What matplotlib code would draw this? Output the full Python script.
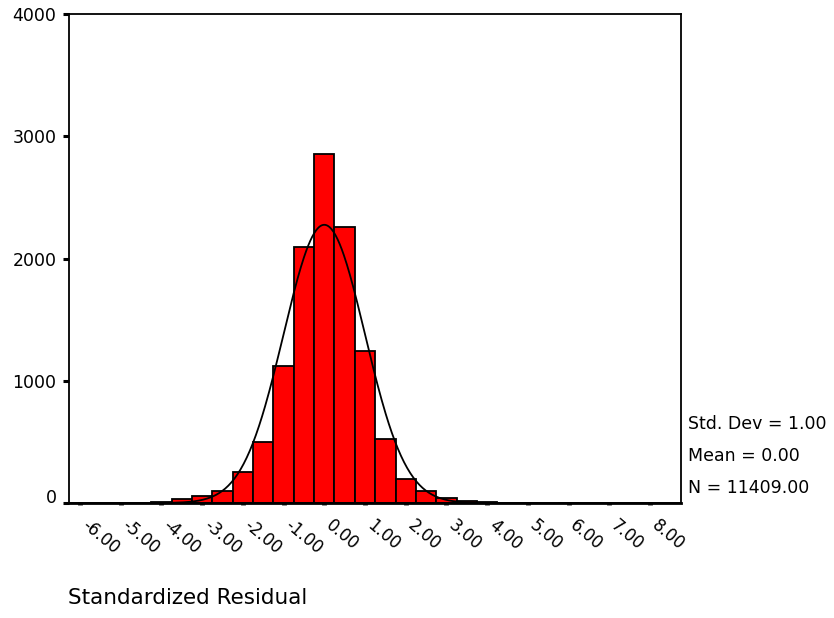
import matplotlib
matplotlib.use("Agg")
import matplotlib.pyplot as plt
import matplotlib.transforms as mtransforms
import numpy as np

# histogram of standardized residuals (bin width 0.5)
bin_centers = [-5.0, -4.5, -4.0, -3.5, -3.0, -2.5, -2.0, -1.5, -1.0, -0.5, 0.0,
               0.5, 1.0, 1.5, 2.0, 2.5, 3.0, 3.5, 4.0, 4.5, 5.0, 6.0, 8.0]
counts = [2, 4, 12, 30, 57, 101, 251, 496, 1121, 2092, 2852,
          2255, 1246, 526, 196, 95, 40, 15, 6, 3, 2, 1, 1]
bin_width = 0.5

std_dev = 1.00
mean = 0.00
n_obs = 11409.00

x_ticks = [-6, -5, -4, -3, -2, -1, 0, 1, 2, 3, 4, 5, 6, 7, 8]
x_tick_labels = ["-6.00", "-5.00", "-4.00", "-3.00", "-2.00", "-1.00", "0.00",
                 "1.00", "2.00", "3.00", "4.00", "5.00", "6.00", "7.00", "8.00"]
y_ticks = [0, 1000, 2000, 3000, 4000]

fig = plt.figure(figsize=(8.34, 6.18), dpi=100)
ax = fig.add_axes([0.0827, 0.1861, 0.7338, 0.7912])

ax.bar(bin_centers, counts, width=bin_width, color="#ff0000",
       edgecolor="black", linewidth=1.3, zorder=2)

xlim = (-6.27, 8.76)
xs = np.linspace(xlim[0], xlim[1], 600)
curve = n_obs * bin_width / (std_dev * np.sqrt(2 * np.pi)) * np.exp(-0.5 * ((xs - mean) / std_dev) ** 2)
ax.plot(xs, curve, color="black", linewidth=1.3, zorder=3)

ax.set_xlim(*xlim)
ax.set_ylim(0, 4000)

ax.set_yticks(y_ticks)
ax.set_yticklabels([str(v) for v in y_ticks], fontsize=12.5)
ax.tick_params(axis="y", direction="out", length=4, width=2.2, pad=5, color="black")
# SPSS nudges the "0" label upward
up = mtransforms.ScaledTranslation(0, 7 / 100, fig.dpi_scale_trans)
zero_lab = ax.yaxis.get_major_ticks()[0].label1
zero_lab.set_transform(zero_lab.get_transform() + up)

ax.set_xticks(x_ticks)
ax.set_xticklabels(x_tick_labels, fontsize=12)
ax.tick_params(axis="x", direction="out", length=1.5, width=3.5, pad=13, color="#222222")
offset = mtransforms.ScaledTranslation(4 / 100, 0, fig.dpi_scale_trans)
for lab in ax.get_xticklabels():
    lab.set_rotation(-40)
    lab.set_rotation_mode("anchor")
    lab.set_ha("left")
    lab.set_va("center")
    lab.set_transform(lab.get_transform() + offset)

for side in ["left", "top", "right"]:
    ax.spines[side].set_linewidth(1.3)
ax.spines["bottom"].set_linewidth(2.0)

stats = ["Std. Dev = %.2f" % std_dev, "Mean = %.2f" % mean, "N = %.2f" % n_obs]
for i, s in enumerate(stats):
    fig.text(688 / 834, 1 - (424 + 32 * i) / 618, s, fontsize=12.5, ha="left", va="center")

fig.text(68 / 834, 1 - 598 / 618, "Standardized Residual", fontsize=15.5, ha="left", va="center")

fig.savefig("out.png", dpi=100)
plt.close(fig)
